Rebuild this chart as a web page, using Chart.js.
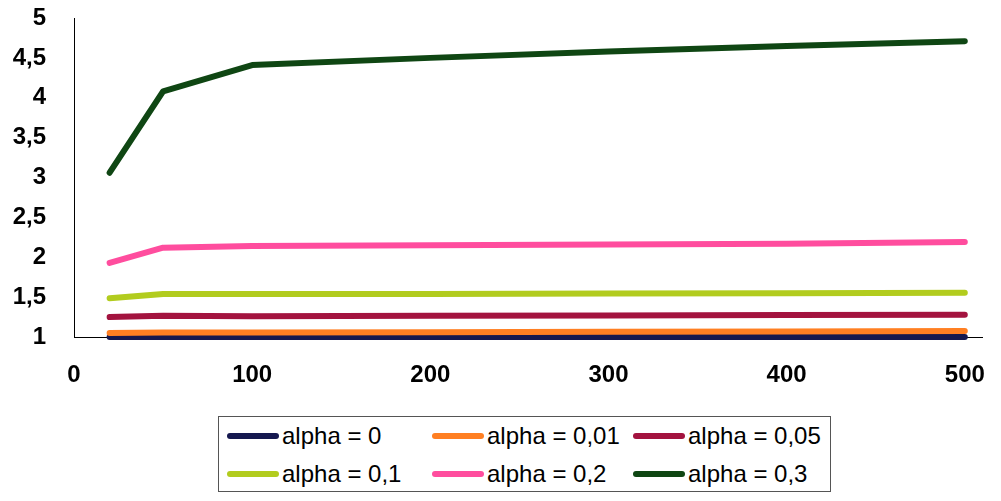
<!DOCTYPE html>
<html>
<head>
<meta charset="utf-8">
<script src="https://cdn.jsdelivr.net/npm/chart.js@4/dist/chart.umd.min.js"></script>
<style>
  html, body { margin: 0; padding: 0; background: #ffffff; }
  #wrap { position: relative; width: 1001px; height: 501px; overflow: hidden; background: #fff; }
  #chartBox { position: absolute; left: 0; top: 0; width: 1001px; height: 400px; }
  #legend {
    position: absolute; left: 218px; top: 416px; width: 611px; height: 74px;
    border: 1px solid #555; box-sizing: content-box;
    font-family: "Liberation Sans", Arial, sans-serif; font-size: 24px; color: #000;
  }
  .item { position: absolute; display: flex; align-items: center; height: 30px; white-space: nowrap; }
  .sw { display: inline-block; width: 52px; height: 6px; border-radius: 3px; margin-right: 3px; }
</style>
</head>
<body>
<div id="wrap">
  <div id="chartBox"><canvas id="c"></canvas></div>
  <div id="legend"></div>
</div>
<script>
// ---- data ----
const xValues   = [20, 50, 100, 200, 300, 400, 500];
const seriesNames = ["alpha = 0", "alpha = 0,01", "alpha = 0,05", "alpha = 0,1", "alpha = 0,2", "alpha = 0,3"];
const alpha0    = [1.0, 1.0, 1.0, 1.0, 1.0, 1.0, 1.0];
const alpha001  = [1.05, 1.055, 1.055, 1.06, 1.065, 1.07, 1.075];
const alpha005  = [1.25, 1.265, 1.26, 1.265, 1.27, 1.275, 1.28];
const alpha01   = [1.485, 1.54, 1.54, 1.54, 1.545, 1.55, 1.555];
const alpha02   = [1.93, 2.12, 2.14, 2.15, 2.16, 2.17, 2.19];
const alpha03   = [3.06, 4.08, 4.41, 4.5, 4.58, 4.65, 4.71];
const xTicks    = [0, 100, 200, 300, 400, 500];
const yTicks    = [1, 1.5, 2, 2.5, 3, 3.5, 4, 4.5, 5];

const seriesValues = [alpha0, alpha001, alpha005, alpha01, alpha02, alpha03];
const colors = ["#15184f", "#ff7f22", "#a3133f", "#b2cc1e", "#ff4d9e", "#0f4613"];

const datasets = seriesValues.map((vals, i) => ({
  label: seriesNames[i],
  data: vals.map((v, j) => ({ x: xValues[j], y: v })),
  borderColor: colors[i],
  backgroundColor: colors[i],
  borderWidth: 6,
  borderCapStyle: 'round',
  borderJoinStyle: 'round',
  pointRadius: 0,
  tension: 0,
  fill: false,
  clip: false,
  order: seriesValues.length - i
}));

const htmlLegend = {
  id: 'htmlLegend',
  afterUpdate(chart) {
    const box = document.getElementById('legend');
    box.innerHTML = '';
    const colLeft = [8, 213, 414];
    const rowTop = [4, 42];
    chart.data.datasets.forEach((ds, i) => {
      const it = document.createElement('div');
      it.className = 'item';
      it.style.left = colLeft[i % 3] + 'px';
      it.style.top = rowTop[Math.floor(i / 3)] + 'px';
      const sw = document.createElement('span');
      sw.className = 'sw';
      sw.style.background = ds.borderColor;
      const tx = document.createElement('span');
      tx.textContent = ds.label;
      it.appendChild(sw);
      it.appendChild(tx);
      box.appendChild(it);
    });
  }
};

const tickFont = { family: '"Liberation Sans", Arial, sans-serif', size: 24, weight: 'bold' };

new Chart(document.getElementById('c'), {
  type: 'line',
  data: { datasets },
  plugins: [htmlLegend],
  options: {
    responsive: true,
    maintainAspectRatio: false,
    animation: false,
    layout: { padding: { top: 0, right: 9, bottom: 3, left: 0 } },
    plugins: { legend: { display: false }, tooltip: { enabled: false } },
    scales: {
      x: {
        type: 'linear',
        min: 0, max: 510,
        afterBuildTicks(scale) { scale.ticks = xTicks.map(v => ({ value: v })); },
        afterFit(scale) { scale.height = 60; },
        grid: { display: false, drawTicks: true, tickLength: 8, tickColor: '#000', drawOnChartArea: false },
        border: { display: true, color: '#000', width: 1 },
        ticks: { color: '#000', font: tickFont, padding: 16, maxRotation: 0, autoSkip: false }
      },
      y: {
        type: 'linear',
        min: 1, max: 5,
        afterBuildTicks(scale) { scale.ticks = yTicks.map(v => ({ value: v })); },
        afterFit(scale) { scale.width = 74; scale.paddingTop = 18; scale.paddingBottom = 15; },
        grid: { display: false, drawTicks: true, tickLength: 8, tickColor: '#000', drawOnChartArea: false },
        border: { display: true, color: '#000', width: 1 },
        ticks: { color: '#000', font: tickFont, padding: 20, autoSkip: false,
                 callback: v => String(v).replace('.', ',') }
      }
    }
  }
});
</script>
</body>
</html>
